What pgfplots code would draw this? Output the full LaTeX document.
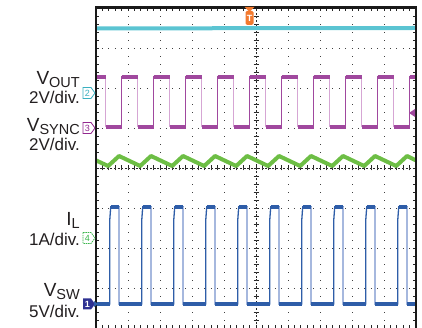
\documentclass[border=0pt]{standalone}
\usepackage{pgfplots}
\pgfplotsset{compat=1.18}
\usepackage{fontspec}
\setmainfont{Liberation Sans}
\definecolor{cy}{HTML}{5BC4D2}
\definecolor{pu}{HTML}{A0489E}
\definecolor{pul}{HTML}{D6A6D4}
\definecolor{gr}{HTML}{6DBE45}
\definecolor{bl}{HTML}{2E5DA8}
\definecolor{bll}{HTML}{A6B8DE}
\definecolor{txt}{HTML}{231F20}
\definecolor{orng}{HTML}{F37A2F}
\definecolor{nav}{HTML}{2E3192}
\definecolor{mcy}{HTML}{3AB0C0}
\definecolor{mpu}{HTML}{93278F}
\definecolor{mgr}{HTML}{39B54A}
\newcommand{\lab}[2]{{\fontsize{19}{19}\selectfont #1}{\fontsize{14.5}{14.5}\selectfont\raisebox{-3pt}{#2}}}
\begin{document}
\begin{tikzpicture}[x=1pt,y=1pt]
\path[use as bounding box] (0,0) rectangle (422,328);
% centre crosshair (under traces)
\draw[black!85, line width=0.8pt, dash pattern=on 2pt off 1.6pt] (256,0) -- (256,320);
\draw[black!85, line width=0.8pt, dash pattern=on 2pt off 1.6pt] (96,160) -- (416,160);
\foreach \k in {0,...,40} \draw[black!85,line width=0.7pt] (253.5,\k*8) -- (258.5,\k*8);
\foreach \k in {0,...,50} \draw[black!85,line width=0.7pt] (96+\k*6.4,157.5) -- (96+\k*6.4,162.5);
\begin{axis}[at={(96pt,0pt)}, anchor=south west, width=320pt, height=320pt, scale only axis,
  xmin=0, xmax=10, ymin=0, ymax=8,
  xtick={0,...,10}, ytick={0,...,8}, minor x tick num=4, minor y tick num=4,
  xticklabels={}, yticklabels={},
  tick align=inside, major tick length=3pt, minor tick length=3pt,
  tick style={black!85, line width=0.7pt},
  grid=major,
  x grid style={black!75, line width=0.9pt, dash pattern=on 0.9pt off 7.1pt, dash phase=0.45pt},
  y grid style={black!75, line width=0.9pt, dash pattern=on 0.9pt off 5.5pt, dash phase=0.45pt},
  axis line style={draw=none},
  unbounded coords=jump]
% V_OUT (cyan)
\addplot[cy, line width=4pt] coordinates {(0,7.49) (10,7.50)};
% I_L (green)
\addplot[gr, line width=4pt, line join=round] coordinates {
(0,4.19) (0.38,4.05) (0.72,4.30) (1.38,4.05) (1.72,4.30) (2.38,4.05) (2.72,4.30)
(3.38,4.05) (3.72,4.30) (4.38,4.05) (4.72,4.30) (5.38,4.05) (5.72,4.30)
(6.38,4.05) (6.72,4.30) (7.38,4.05) (7.72,4.30) (8.38,4.05) (8.72,4.30)
(9.38,4.05) (9.72,4.30) (10,4.19)};
% V_SYNC (purple) full trace
\addplot[pu, line width=1.3pt] coordinates {
(0,6.28)(0.3,6.28)(0.3,5.03)(0.8,5.03)(0.8,6.28)(1.3,6.28)(1.3,5.03)(1.8,5.03)(1.8,6.28)
(2.3,6.28)(2.3,5.03)(2.8,5.03)(2.8,6.28)(3.3,6.28)(3.3,5.03)(3.8,5.03)(3.8,6.28)
(4.3,6.28)(4.3,5.03)(4.8,5.03)(4.8,6.28)(5.3,6.28)(5.3,5.03)(5.8,5.03)(5.8,6.28)
(6.3,6.28)(6.3,5.03)(6.8,5.03)(6.8,6.28)(7.3,6.28)(7.3,5.03)(7.8,5.03)(7.8,6.28)
(8.3,6.28)(8.3,5.03)(8.8,5.03)(8.8,6.28)(9.3,6.28)(9.3,5.03)(9.8,5.03)(9.8,6.28)(10,6.28)};
% V_SYNC falling edges (light)
\addplot[pul, line width=1.6pt] coordinates {
(0.3,6.28)(0.3,5.03)(0.3,nan)(1.3,6.28)(1.3,5.03)(1.3,nan)(2.3,6.28)(2.3,5.03)(2.3,nan)
(3.3,6.28)(3.3,5.03)(3.3,nan)(4.3,6.28)(4.3,5.03)(4.3,nan)(5.3,6.28)(5.3,5.03)(5.3,nan)
(6.3,6.28)(6.3,5.03)(6.3,nan)(7.3,6.28)(7.3,5.03)(7.3,nan)(8.3,6.28)(8.3,5.03)(8.3,nan)
(9.3,6.28)(9.3,5.03)};
% V_SYNC plateaus (noisy band)
\addplot[pu, line width=4pt] coordinates {
(0,6.28)(0.3,6.28)(0.3,nan)(0.3,5.03)(0.8,5.03)(0.8,nan)(0.8,6.28)(1.3,6.28)(1.3,nan)
(1.3,5.03)(1.8,5.03)(1.8,nan)(1.8,6.28)(2.3,6.28)(2.3,nan)(2.3,5.03)(2.8,5.03)(2.8,nan)
(2.8,6.28)(3.3,6.28)(3.3,nan)(3.3,5.03)(3.8,5.03)(3.8,nan)(3.8,6.28)(4.3,6.28)(4.3,nan)
(4.3,5.03)(4.8,5.03)(4.8,nan)(4.8,6.28)(5.3,6.28)(5.3,nan)(5.3,5.03)(5.8,5.03)(5.8,nan)
(5.8,6.28)(6.3,6.28)(6.3,nan)(6.3,5.03)(6.8,5.03)(6.8,nan)(6.8,6.28)(7.3,6.28)(7.3,nan)
(7.3,5.03)(7.8,5.03)(7.8,nan)(7.8,6.28)(8.3,6.28)(8.3,nan)(8.3,5.03)(8.8,5.03)(8.8,nan)
(8.8,6.28)(9.3,6.28)(9.3,nan)(9.3,5.03)(9.8,5.03)(9.8,nan)(9.8,6.28)(10,6.28)};
% V_SW (blue) full trace
\addplot[bl, line width=1.3pt] coordinates {
(0,0.6)(0.43,0.6)(0.43,2.7)(0.46,3.03)(0.72,3.03)(0.72,0.6)
(1.43,0.6)(1.43,2.7)(1.46,3.03)(1.72,3.03)(1.72,0.6)
(2.43,0.6)(2.43,2.7)(2.46,3.03)(2.72,3.03)(2.72,0.6)
(3.43,0.6)(3.43,2.7)(3.46,3.03)(3.72,3.03)(3.72,0.6)
(4.43,0.6)(4.43,2.7)(4.46,3.03)(4.72,3.03)(4.72,0.6)
(5.43,0.6)(5.43,2.7)(5.46,3.03)(5.72,3.03)(5.72,0.6)
(6.43,0.6)(6.43,2.7)(6.46,3.03)(6.72,3.03)(6.72,0.6)
(7.43,0.6)(7.43,2.7)(7.46,3.03)(7.72,3.03)(7.72,0.6)
(8.43,0.6)(8.43,2.7)(8.46,3.03)(8.72,3.03)(8.72,0.6)
(9.43,0.6)(9.43,2.7)(9.46,3.03)(9.72,3.03)(9.72,0.6)(10,0.6)};
% V_SW falling edges (light)
\addplot[bll, line width=1.6pt] coordinates {
(0.72,3.03)(0.72,0.6)(0.72,nan)(1.72,3.03)(1.72,0.6)(1.72,nan)(2.72,3.03)(2.72,0.6)(2.72,nan)
(3.72,3.03)(3.72,0.6)(3.72,nan)(4.72,3.03)(4.72,0.6)(4.72,nan)(5.72,3.03)(5.72,0.6)(5.72,nan)
(6.72,3.03)(6.72,0.6)(6.72,nan)(7.72,3.03)(7.72,0.6)(7.72,nan)(8.72,3.03)(8.72,0.6)(8.72,nan)
(9.72,3.03)(9.72,0.6)};
% V_SW plateaus (noisy band)
\addplot[bl, line width=3.8pt] coordinates {
(0,0.6)(0.43,0.6)(0.43,nan)(0.46,3.03)(0.72,3.03)(0.72,nan)(0.72,0.6)(1.43,0.6)(1.43,nan)
(1.46,3.03)(1.72,3.03)(1.72,nan)(1.72,0.6)(2.43,0.6)(2.43,nan)
(2.46,3.03)(2.72,3.03)(2.72,nan)(2.72,0.6)(3.43,0.6)(3.43,nan)
(3.46,3.03)(3.72,3.03)(3.72,nan)(3.72,0.6)(4.43,0.6)(4.43,nan)
(4.46,3.03)(4.72,3.03)(4.72,nan)(4.72,0.6)(5.43,0.6)(5.43,nan)
(5.46,3.03)(5.72,3.03)(5.72,nan)(5.72,0.6)(6.43,0.6)(6.43,nan)
(6.46,3.03)(6.72,3.03)(6.72,nan)(6.72,0.6)(7.43,0.6)(7.43,nan)
(7.46,3.03)(7.72,3.03)(7.72,nan)(7.72,0.6)(8.43,0.6)(8.43,nan)
(8.46,3.03)(8.72,3.03)(8.72,nan)(8.72,0.6)(9.43,0.6)(9.43,nan)
(9.46,3.03)(9.72,3.03)(9.72,nan)(9.72,0.6)(10,0.6)};
\end{axis}
% frame
\draw[black!90, line width=2.2pt] (96,-3) -- (96,320.5) -- (416,320.5) -- (416,-3);
% trigger marker
\fill[orng] (244.5,321) -- (254.5,321) -- (249.5,316) -- cycle;
\fill[orng, rounded corners=1.5pt] (245.5,317) rectangle (253.5,303);
\node[white, inner sep=0, font=\bfseries\fontsize{9}{9}\selectfont] at (249.5,309.5) {T};
% purple right-side marker
\fill[pu] (409,215) -- (415,219) -- (415,211) -- cycle;
% labels
\begin{scope}[every node/.style={inner sep=0, anchor=base east, text=txt}]
\node at (80,243) {\lab{V}{OUT}};
\node at (80,224) {\fontsize{17}{17}\selectfont 2V/div.};
\node at (80,196) {\lab{V}{SYNC}};
\node at (80,177) {\fontsize{17}{17}\selectfont 2V/div.};
\node at (80,102) {\lab{I}{L}};
\node at (80,82) {\fontsize{17}{17}\selectfont 1A/div.};
\node at (80,31) {\lab{V}{SW}};
\node at (80,10) {\fontsize{17}{17}\selectfont 5V/div.};
\end{scope}
% channel markers
\draw[mcy, line width=0.8pt, fill=white] (83,240.5) -- (91,240.5) -- (95,235) -- (91,229.5) -- (83,229.5) -- cycle;
\node[mcy, inner sep=0, font=\fontsize{9}{9}\selectfont] at (87.5,235) {2};
\draw[mpu, line width=0.8pt, fill=white] (83,205.5) -- (91,205.5) -- (95,200) -- (91,194.5) -- (83,194.5) -- cycle;
\node[mpu, inner sep=0, font=\fontsize{9}{9}\selectfont] at (87.5,200) {3};
\draw[mgr, line width=0.8pt, fill=white, dash pattern=on 1.5pt off 0.8pt] (83,95.5) -- (91,95.5) -- (95,90) -- (91,84.5) -- (83,84.5) -- cycle;
\node[mgr, inner sep=0, font=\fontsize{9}{9}\selectfont] at (87.5,90) {4};
\fill[nav] (83,29.5) -- (91,29.5) -- (95,24) -- (91,18.5) -- (83,18.5) -- cycle;
\node[white, inner sep=0, font=\bfseries\fontsize{9}{9}\selectfont] at (87.5,24) {1};
\fill[bl] (94,27) -- (98,24) -- (94,21) -- cycle;
\end{tikzpicture}
\end{document}
